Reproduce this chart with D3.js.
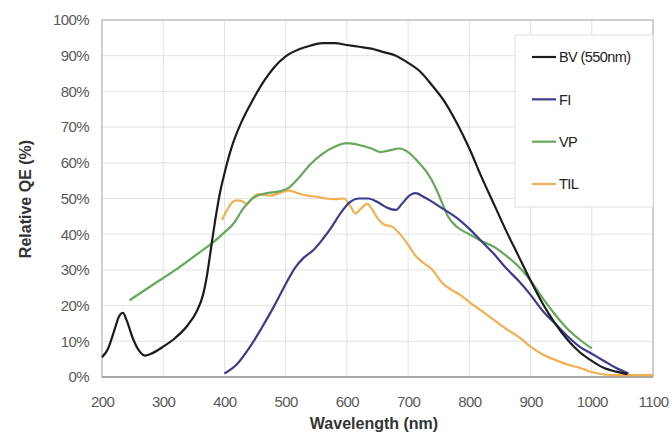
<!DOCTYPE html>
<html><head><meta charset="utf-8">
<script src="https://cdn.jsdelivr.net/npm/d3@7"></script>
<style>body{margin:0;background:#fff;} svg{display:block;}</style>
</head><body>
<script>
const xTicks = [200,300,400,500,600,700,800,900,1000,1100];
const yTicks = [0,10,20,30,40,50,60,70,80,90,100];
const seriesNames = ["BV (550nm)","FI","VP","TIL"];
const seriesColors = ["#1c1c1c","#3b3b8f","#66a85a","#f2b050"];

const bvWl = [200,210,220,228,234,240,250,260,270,280,300,320,340,355,365,372,378,385,392,400,413,428,446,465,480,500,522,540,560,580,600,620,640,660,680,700,720,740,760,780,800,820,840,860,880,900,920,940,960,980,1000,1020,1040,1058];
const bvQE = [5.5,8,13,17,18,16,11,7.5,6,6.5,8.5,11,14.5,18.5,23,29,36,44,51,57,65,71.5,77.5,83,86.5,89.8,91.8,92.8,93.5,93.5,93,92.5,92,91,90,88,85.5,81.5,77,71,64,56,48.5,41,34,27,20.5,15,10.5,7,4.5,2.5,1.5,0.8];

const fiWl = [400,420,440,460,480,500,515,530,545,560,575,590,605,620,635,650,665,680,690,700,712,725,740,760,780,800,820,840,860,880,900,920,940,960,980,1000,1020,1040,1060];
const fiQE = [1,3.5,8,13.5,19.5,26,30.5,33.5,35.5,38.5,42,46,49,50,50,49,47.5,46.8,48.5,50.5,51.5,50.5,49,46.8,44.5,41.5,38,34.5,30.5,27,23,18.5,15,11.5,8.5,6.5,4.5,2.5,1];

const vpWl = [245,280,320,360,380,400,415,430,450,470,490,505,520,540,560,580,600,620,640,655,670,685,700,715,730,745,755,765,780,800,820,840,860,880,900,920,940,960,980,1000];
const vpQE = [21.5,25.5,30,35,37.5,40.5,43,47,50.5,51.5,52,53,55.5,59.5,62.5,64.5,65.5,65,64,63,63.5,64,63,60.5,57.5,53,49,45,42,40,38,36.5,34,31,27,22,17.5,13.5,10.5,8];

const tilWl = [396,405,412,420,428,436,445,455,465,475,490,505,520,535,550,565,580,595,605,614,622,633,641,650,660,675,688,700,712,725,740,755,770,785,800,820,840,860,880,900,920,940,960,980,1000,1020,1040,1100];
const tilQE = [44,47,48.8,49.5,49.3,48.5,50,51.2,51,50.8,51.5,52.3,51.5,50.8,50.5,50,49.8,50,48,45.8,47,48.5,47,44.5,42.8,42,39.8,37,34,32,30,26.5,24.5,23,21,18.5,16,13.5,11.3,8.5,6.3,4.8,3.5,2.6,1.4,0.7,0.5,0.5];

const W = 672, H = 434;
const m = {left:102, right:19, top:20, bottom:57};
const svg = d3.select("body").append("svg").attr("width",W).attr("height",H);
const x = d3.scaleLinear().domain([200,1100]).range([m.left, W-m.right]);
const y = d3.scaleLinear().domain([0,100]).range([H-m.bottom, m.top]);

// grid
svg.append("g").selectAll("line.v").data(xTicks).join("line")
  .attr("x1",d=>x(d)).attr("x2",d=>x(d)).attr("y1",y(0)).attr("y2",y(100))
  .attr("stroke","#e2e2e2").attr("stroke-width",1);
svg.append("g").selectAll("line.h").data(yTicks).join("line")
  .attr("x1",x(200)).attr("x2",x(1100)).attr("y1",d=>y(d)).attr("y2",d=>y(d))
  .attr("stroke","#e2e2e2").attr("stroke-width",1);
// border
svg.append("rect").attr("x",x(200)).attr("y",y(100)).attr("width",x(1100)-x(200)).attr("height",y(0)-y(100))
  .attr("fill","none").attr("stroke","#b8b8b8").attr("stroke-width",1.2);
svg.append("line").attr("x1",x(200)).attr("x2",x(1100)).attr("y1",y(0)).attr("y2",y(0)).attr("stroke","#9a9a9a").attr("stroke-width",1.5);

const font = "'Liberation Sans',Arial,sans-serif";
const xAxis = svg.append("g").attr("transform",`translate(0,${y(0)})`)
  .call(d3.axisBottom(x).tickValues(xTicks).tickFormat(d3.format("d")).tickSize(0).tickPadding(19));
xAxis.select(".domain").remove();
xAxis.selectAll("text").attr("font-family",font).attr("font-size",15).attr("letter-spacing",-0.6).attr("fill","#5a5a5a");
const yAxis = svg.append("g").attr("transform",`translate(${x(200)},0)`)
  .call(d3.axisLeft(y).tickValues(yTicks).tickFormat(d=>d+"%").tickSize(0).tickPadding(13));
yAxis.select(".domain").remove();
yAxis.selectAll("text").attr("font-family",font).attr("font-size",15).attr("letter-spacing",-0.6).attr("fill","#5a5a5a");

svg.append("text").attr("x",374).attr("y",429).attr("text-anchor","middle")
  .attr("font-family",font).attr("font-weight","bold").attr("font-size",16).attr("fill","#333")
  .text("Wavelength (nm)");
svg.append("text").attr("transform",`translate(31,${199}) rotate(-90)`).attr("text-anchor","middle")
  .attr("font-family",font).attr("font-weight","bold").attr("font-size",16).attr("fill","#333")
  .text("Relative QE (%)");

// lines
const series = [[bvWl,bvQE],[fiWl,fiQE],[vpWl,vpQE],[tilWl,tilQE]];
const line = d3.line().x(d=>x(d[0])).y(d=>y(d[1])).curve(d3.curveMonotoneX);
const order = [3,2,1,0];
order.forEach(i=>{
  const pts = series[i][0].map((w,k)=>[w,series[i][1][k]]);
  svg.append("path").datum(pts).attr("d",line).attr("fill","none")
    .attr("stroke",seriesColors[i]).attr("stroke-width",2.2).attr("stroke-linejoin","round");
});

// legend
const lg = svg.append("g");
lg.append("rect").attr("x",515).attr("y",35).attr("width",x(1100)-515).attr("height",172)
  .attr("fill","#fff").attr("stroke","#e0e0e0").attr("stroke-width",1);
const lgY = d3.scalePoint().domain(seriesNames).range([57,184]);
seriesNames.forEach((n,i)=>{
  lg.append("line").attr("x1",532).attr("x2",556).attr("y1",lgY(n)).attr("y2",lgY(n))
    .attr("stroke",seriesColors[i]).attr("stroke-width",2.2);
  lg.append("text").attr("x",559).attr("y",lgY(n)).attr("dy","0.36em")
    .attr("font-family",font).attr("font-size",14.5).attr("letter-spacing",-0.6).attr("fill","#222").text(n);
});
</script>
</body></html>
